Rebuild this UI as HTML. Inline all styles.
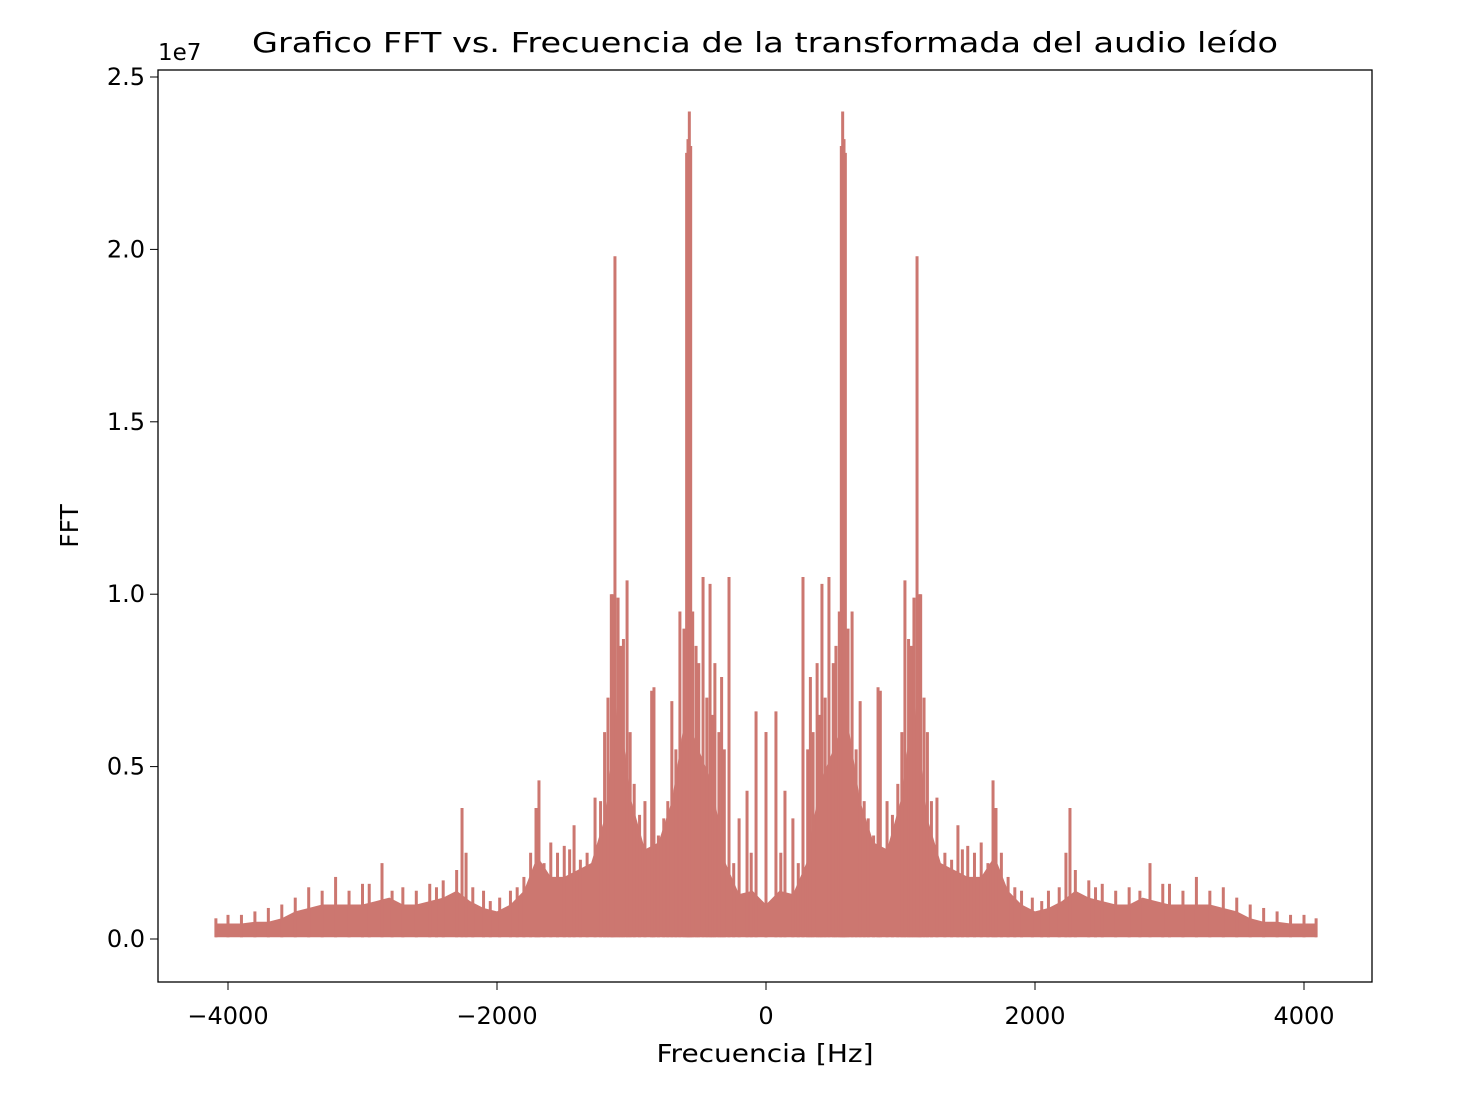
<!DOCTYPE html>
<html><head><meta charset="utf-8"><style>
body{margin:0;background:#fff;}
svg{font-family:"DejaVu Sans","Liberation Sans",sans-serif;}
</style></head><body>
<svg width="1466" height="1090">
<rect width="1466" height="1090" fill="#fff"/>
<g id="marks"></g>
<rect x="158" y="70" width="1214" height="912" fill="none" stroke="#000" stroke-width="1.3"/>
<g id="axes"></g>
<text x="765" y="52" font-size="28" text-anchor="middle" textLength="1026" lengthAdjust="spacingAndGlyphs">Grafico FFT vs. Frecuencia de la transformada del audio leído</text>
<text x="765" y="1062" font-size="25" text-anchor="middle" textLength="217" lengthAdjust="spacingAndGlyphs">Frecuencia [Hz]</text>
<text x="78" y="526" font-size="25" text-anchor="middle" transform="rotate(-90 78 526)">FFT</text>
<text x="158" y="60" font-size="23">1e7</text>
</svg>
<script>
// positive-frequency spikes (Hz) and magnitudes (1e6); mirrored to negative
const peakFreqs = [0, 74, 110, 141, 200, 240, 275, 310, 330, 350, 380, 400, 416, 440, 468, 500, 520, 545, 560, 570, 580, 590, 610, 640, 670, 700, 730, 760, 800, 833, 850, 900, 940, 980, 1010, 1033, 1060, 1080, 1100, 1123, 1140, 1150, 1175, 1200, 1230, 1271, 1330, 1380, 1427, 1460, 1500, 1550, 1600, 1650, 1688, 1710, 1750, 1800, 1850, 1900, 1980, 2050, 2100, 2180, 2230, 2260, 2300, 2400, 2450, 2500, 2600, 2700, 2780, 2855, 2950, 3000, 3100, 3200, 3300, 3400, 3500, 3600, 3700, 3800, 3900, 4000, 4090];
const peakVals  = [6.0, 6.6, 2.5, 4.3, 3.5, 2.2, 10.5, 5.5, 7.6, 6.0, 8.0, 6.5, 10.3, 7.0, 10.5, 8.0, 8.5, 9.5, 23.0, 24.0, 23.2, 22.8, 9.0, 9.5, 5.5, 6.9, 4.0, 3.5, 3.0, 7.3, 7.2, 4.0, 3.6, 4.5, 6.0, 10.4, 8.7, 8.5, 9.9, 19.8, 10.0, 10.0, 7.0, 6.0, 4.0, 4.1, 2.5, 2.3, 3.3, 2.6, 2.7, 2.5, 2.8, 2.2, 4.6, 3.8, 2.5, 1.8, 1.5, 1.4, 1.2, 1.1, 1.4, 1.5, 2.5, 3.8, 2.0, 1.7, 1.5, 1.6, 1.4, 1.5, 1.4, 2.2, 1.6, 1.6, 1.4, 1.8, 1.4, 1.5, 1.2, 1.0, 0.9, 0.8, 0.7, 0.7, 0.6];
// background density envelope every 100 Hz (1e6)
const envFreqs = [0,100,200,300,400,500,600,700,800,900,1000,1100,1200,1300,1400,1500,1600,1700,1800,1900,2000,2100,2200,2300,2400,2500,2600,2700,2800,2900,3000,3100,3200,3300,3400,3500,3600,3700,3800,3900,4000,4096];
const envVals  = [1.0,1.4,1.3,2.2,4.5,5.5,6.5,4.0,2.8,2.6,4.0,7.0,3.5,2.2,2.0,1.8,1.8,2.4,1.4,1.0,0.8,0.9,1.1,1.4,1.2,1.1,1.0,1.0,1.2,1.1,1.0,1.0,1.0,1.0,0.9,0.8,0.6,0.5,0.5,0.45,0.45,0.45];
const xTicks = [-4000,-2000,0,2000,4000];
const yTicks = [0,0.5,1.0,1.5,2.0,2.5];
const xs = f => 766 + f*0.1345;
const ys = v => 939 - v*34.48; // v in 1e6
const NS="http://www.w3.org/2000/svg";
const g=document.getElementById('marks'), ax=document.getElementById('axes');
const col="#cc7770";
let pts=[];
for(let i=envFreqs.length-1;i>=0;i--) pts.push(xs(-envFreqs[i])+','+ys(envVals[i]));
for(let i=0;i<envFreqs.length;i++) pts.push(xs(envFreqs[i])+','+ys(envVals[i]));
pts.push(xs(4096)+','+ys(0.05)); pts.push(xs(-4096)+','+ys(0.05));
const poly=document.createElementNS(NS,'polygon');
poly.setAttribute('points',pts.join(' '));poly.setAttribute('fill',col);


g.appendChild(poly);
peakFreqs.forEach((f,i)=>{
  [f,-f].forEach(ff=>{
    const l=document.createElementNS(NS,'line');
    l.setAttribute('x1',xs(ff));l.setAttribute('x2',xs(ff));
    l.setAttribute('y1',ys(0.05));l.setAttribute('y2',ys(peakVals[i]));
    l.setAttribute('stroke',col);l.setAttribute('stroke-width',3);
    
    
    g.appendChild(l);
  });
});
xTicks.forEach(t=>{
  const x=xs(t);
  const l=document.createElementNS(NS,'line');
  l.setAttribute('x1',x);l.setAttribute('x2',x);l.setAttribute('y1',982);l.setAttribute('y2',990);l.setAttribute('stroke','#000');
  
  
  ax.appendChild(l);
  const tx=document.createElementNS(NS,'text');
  tx.setAttribute('x',x);tx.setAttribute('y',1024);tx.setAttribute('font-size','24');tx.setAttribute('text-anchor','middle');
  tx.textContent=(t<0?'\u2212'+(-t):t);
  
  
  ax.appendChild(tx);
});
yTicks.forEach(t=>{
  const y=ys(t*10);
  const l=document.createElementNS(NS,'line');
  l.setAttribute('x1',150);l.setAttribute('x2',158);l.setAttribute('y1',y);l.setAttribute('y2',y);l.setAttribute('stroke','#000');
  
  
  ax.appendChild(l);
  const tx=document.createElementNS(NS,'text');
  tx.setAttribute('x',145);tx.setAttribute('y',y+8);tx.setAttribute('font-size','24');tx.setAttribute('text-anchor','end');
  tx.textContent=t.toFixed(1);
  
  
  ax.appendChild(tx);
});
</script>
</body></html>
